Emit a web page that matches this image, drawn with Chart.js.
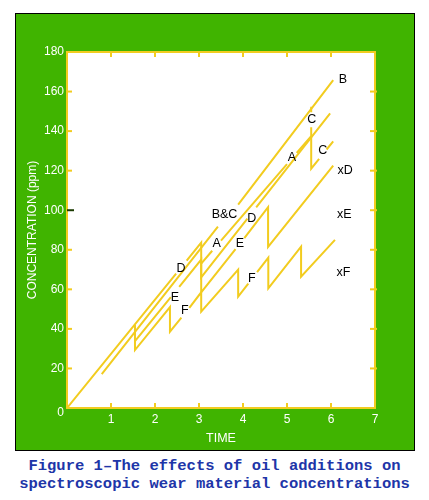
<!DOCTYPE html>
<html>
<head>
<meta charset="utf-8">
<script src="https://cdn.jsdelivr.net/npm/chart.js@4.4.0/dist/chart.umd.min.js"></script>
<style>
  body { margin: 0; background: #fff; }
  #box {
    position: absolute; left: 15px; top: 13px; width: 400px; height: 438px;
    box-sizing: border-box; border: 1px solid #000; background: #40b400;
  }
  #chart { position: absolute; left: 0; top: 0; }
  #caption {
    position: absolute; left: 0; top: 457px; width: 429px; text-align: center;
    font: bold 15.5px "Liberation Mono", "DejaVu Sans Mono", monospace;
    line-height: 18px; color: #2035a8; white-space: pre;
  }
</style>
</head>
<body>
<div id="box"><canvas id="chart" width="398" height="436"></canvas></div>
<div id="caption">Figure 1–The effects of oil additions on
spectroscopic wear material concentrations</div>
<script>
// time / concentration of each trace, null = break in the line (label gap)
const bTime = [0.79, 3.43, 3.66, 3.89, 6.05];
const bConc = [17.1, 91.7, null, 102.8, 165.8];

const cTime = [5.55, 5.55, 5.55, 5.55, 5.55, 5.73, 5.81, 5.9, 6.05];
const cConc = [152.3, 149.5, null, 142, 121, 126, null, 130.7, 134.8];

const aTime = [3.05, 3.3, 3.4, 3.5, 5.0, 5.11, 5.22, 5.55];
const aConc = [73, 79.5, null, 84.6, 123.3, null, 129, 137.5];

const dTime = [0, 2.48, 2.6, 2.72, 3.05, 3.05, 4.1, 4.2, 4.3, 5.98];
const dConc = [0, 68, null, 74.5, 83.6, 66, 95.7, null, 101.4, 149];

const eTime = [1.545, 2.36, 2.45, 2.55, 3.05, 3.05, 3.83, 3.93, 4.03, 4.57, 4.57, 6.05];
const eConc = [33.8, 56.1, null, 61.3, 75, 58.5, 80.3, null, 85.9, 101.5, 81.5, 122.5];

const fTime = [1.545, 1.545, 2.34, 2.34, 2.6, 2.69, 2.78, 3.05, 3.05, 3.89, 3.89, 4.12, 4.22, 4.32, 4.575, 4.575, 5.32, 5.32, 6.09];
const fConc = [42, 29.3, 51, 38.6, 45.7, null, 50.6, 58.5, 48.7, 70, 56.3, 62.9, null, 68.7, 76, 60.5, 81.6, 66.4, 85];

// labels written on the plot
const labelText = ['B', 'C', 'C', 'A', 'xD', 'xE', 'xF', 'B&C', 'D', 'A', 'E', 'D', 'E', 'F', 'F'];
const labelTime = [6.27, 5.56, 5.81, 5.11, 6.32, 6.3, 6.28, 3.58, 4.2, 3.4, 3.93, 2.59, 2.45, 2.68, 4.2];
const labelConc = [166.3, 145.6, 130.1, 126.7, 120.3, 97.6, 68.4, 97.6, 95.9, 83.3, 82.9, 70.6, 56, 49.5, 65.6];

const xTicks = [1, 2, 3, 4, 5, 6];
const yTicks = [20, 40, 60, 80, 100, 120, 140, 160];

const YELLOW = '#f2cc1f';
const FONT = '"Liberation Sans", Arial, sans-serif';

function trace(times, concs) {
  return {
    data: times.map((t, i) => ({ x: t, y: concs[i] })),
    borderColor: YELLOW,
    borderWidth: 2,
    pointRadius: 0,
    fill: false,
    tension: 0,
    spanGaps: false
  };
}

const framePlugin = {
  id: 'frame',
  beforeDatasetsDraw(chart) {
    const { ctx, chartArea: a } = chart;
    ctx.save();
    ctx.fillStyle = '#fff';
    ctx.fillRect(a.left, a.top, a.right - a.left, a.bottom - a.top);
    ctx.restore();
  },
  afterDatasetsDraw(chart) {
    const { ctx, chartArea: a, scales } = chart;
    ctx.save();
    ctx.strokeStyle = YELLOW;
    ctx.lineWidth = 2;
    ctx.strokeRect(a.left, a.top, a.right - a.left, a.bottom - a.top);

    xTicks.forEach(v => {
      const px = scales.x.getPixelForValue(v);
      ctx.beginPath();
      ctx.moveTo(px, a.bottom); ctx.lineTo(px, a.bottom - 5);
      ctx.moveTo(px, a.top); ctx.lineTo(px, a.top + 5);
      ctx.stroke();
    });
    yTicks.forEach(v => {
      const py = scales.y.getPixelForValue(v);
      ctx.beginPath();
      ctx.strokeStyle = v === 100 ? '#1a3a00' : YELLOW;
      ctx.moveTo(a.left, py); ctx.lineTo(a.left + (v === 100 ? 7 : 5), py);
      ctx.stroke();
      ctx.beginPath();
      ctx.strokeStyle = YELLOW;
      ctx.moveTo(a.right + 2, py); ctx.lineTo(a.right - 5, py);
      ctx.stroke();
    });

    // the shared origin label sits a little below the corner
    ctx.fillStyle = '#fff';
    ctx.font = '12px ' + FONT;
    ctx.textAlign = 'right';
    ctx.textBaseline = 'middle';
    ctx.fillText('0', a.left - 3, a.bottom + 5);

    ctx.fillStyle = '#000';
    ctx.font = '12.5px ' + FONT;
    ctx.textAlign = 'center';
    labelText.forEach((s, i) => {
      ctx.fillText(s, scales.x.getPixelForValue(labelTime[i]), scales.y.getPixelForValue(labelConc[i]));
    });
    ctx.restore();
  }
};

new Chart(document.getElementById('chart'), {
  type: 'line',
  data: {
    datasets: [
      trace(bTime, bConc),
      trace(cTime, cConc),
      trace(aTime, aConc),
      trace(dTime, dConc),
      trace(eTime, eConc),
      trace(fTime, fConc)
    ]
  },
  options: {
    responsive: false,
    animation: false,
    layout: { padding: { top: 38, right: 39, left: 0, bottom: 0 } },
    plugins: { legend: { display: false }, tooltip: { enabled: false } },
    scales: {
      x: {
        type: 'linear', min: 0, max: 7,
        grid: { display: false, drawTicks: false }, border: { display: false },
        ticks: {
          stepSize: 1, color: '#fff', padding: 4,
          font: { family: FONT, size: 12 },
          callback: v => (v === 0 ? '' : v)
        },
        title: {
          display: true, text: 'TIME', color: '#fff',
          font: { family: FONT, size: 12.5 }, padding: { top: 0, bottom: 4 }
        },
        afterFit: s => { s.height = 42; }
      },
      y: {
        min: 0, max: 180,
        grid: { display: false, drawTicks: false }, border: { display: false },
        ticks: {
          stepSize: 20, color: '#fff', padding: 3,
          font: { family: FONT, size: 12 },
          callback: v => (v === 0 ? '' : v)
        },
        title: {
          display: true, text: 'CONCENTRATION (ppm)', color: '#fff',
          font: { family: FONT, size: 12 }, padding: { top: 9, bottom: 0 }
        },
        afterFit: s => { s.width = 51; }
      }
    }
  },
  plugins: [framePlugin]
});
</script>
</body>
</html>
